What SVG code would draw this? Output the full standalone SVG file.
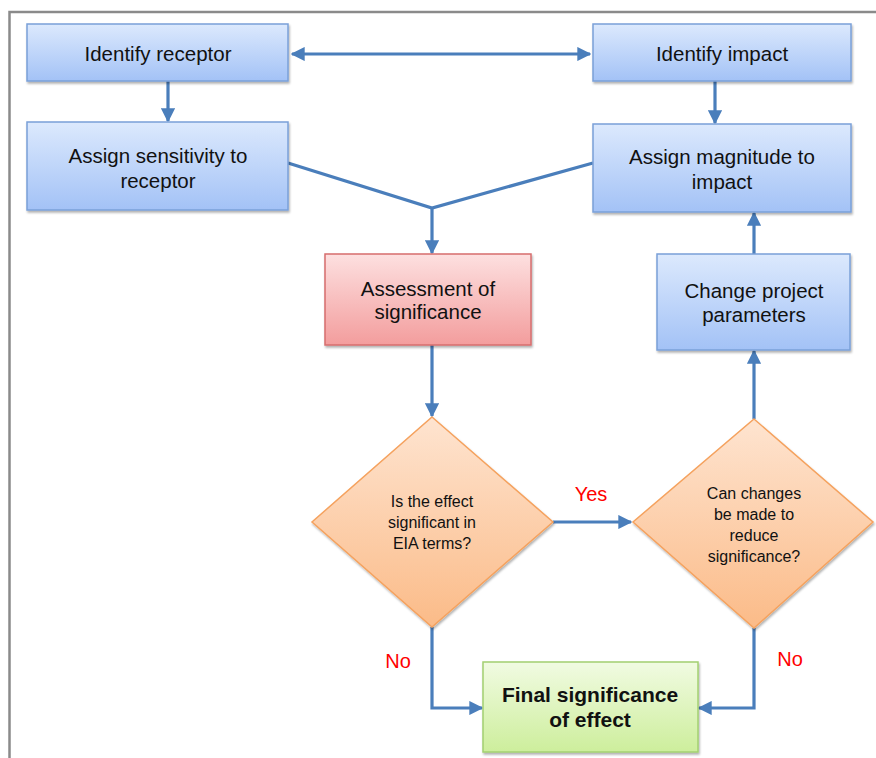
<svg xmlns="http://www.w3.org/2000/svg" width="876" height="758" viewBox="0 0 876 758">
<defs>
<linearGradient id="gBlue" x1="0" y1="0" x2="0" y2="1"><stop offset="0" stop-color="#dce9fd"/><stop offset="1" stop-color="#a3c2f6"/></linearGradient>
<linearGradient id="gRed" x1="0" y1="0" x2="0" y2="1"><stop offset="0" stop-color="#fde0e0"/><stop offset="1" stop-color="#f39d9d"/></linearGradient>
<linearGradient id="gOrange" x1="0" y1="0" x2="0" y2="1"><stop offset="0" stop-color="#fee4d0"/><stop offset="1" stop-color="#fbbb88"/></linearGradient>
<linearGradient id="gGreen" x1="0" y1="0" x2="0" y2="1"><stop offset="0" stop-color="#f1fbe2"/><stop offset="1" stop-color="#cdee9c"/></linearGradient>
<marker id="ah" viewBox="0 0 10 10" refX="9" refY="5" markerWidth="4.4" markerHeight="4.6" orient="auto-start-reverse" markerUnits="strokeWidth"><path d="M0,0 L10,5 L0,10 z" fill="#4a7ebb"/></marker>
<filter id="sh" x="-5%" y="-5%" width="115%" height="120%"><feDropShadow dx="1" dy="2" stdDeviation="1.2" flood-color="#000" flood-opacity="0.3"/></filter>
</defs>
<style>
.frame{fill:none;stroke:#8a8a8a;stroke-width:2.5}
.blue{fill:url(#gBlue);stroke:#7aa0d8;stroke-width:1.5;filter:url(#sh)}
.red{fill:url(#gRed);stroke:#d66e6e;stroke-width:1.5;filter:url(#sh)}
.orange{fill:url(#gOrange);stroke:#f5a25e;stroke-width:1.5;filter:url(#sh)}
.green{fill:url(#gGreen);stroke:#a3d070;stroke-width:1.5;filter:url(#sh)}
.t{font-family:"Liberation Sans",Arial,sans-serif;font-size:20.5px;fill:#111;text-anchor:middle}
.ts{font-family:"Liberation Sans",Arial,sans-serif;font-size:16px;fill:#111;text-anchor:middle}
.tb{font-family:"Liberation Sans",Arial,sans-serif;font-size:21px;font-weight:bold;fill:#111;text-anchor:middle}
.lbl{font-family:"Liberation Sans",Arial,sans-serif;font-size:20px;fill:#ff0000;text-anchor:middle}
.c{fill:none;stroke:#4a7ebb;stroke-width:3.2}
</style>
<path class="frame" d="M9.5,758 L9.5,12 L876,12"/>
<g id="connectors">
<line class="c" x1="292" y1="54" x2="590" y2="54" marker-start="url(#ah)" marker-end="url(#ah)"/>
<line class="c" x1="168" y1="81" x2="168" y2="121" marker-end="url(#ah)"/>
<line class="c" x1="715" y1="81" x2="715" y2="123" marker-end="url(#ah)"/>
<polyline class="c" points="288,163 432,208 593,163"/>
<line class="c" x1="432" y1="208" x2="432" y2="253" marker-end="url(#ah)"/>
<line class="c" x1="432" y1="345" x2="432" y2="416" marker-end="url(#ah)"/>
<line class="c" x1="553" y1="522" x2="631" y2="522" marker-end="url(#ah)"/>
<line class="c" x1="754" y1="419" x2="754" y2="351" marker-end="url(#ah)"/>
<line class="c" x1="754" y1="254" x2="754" y2="213" marker-end="url(#ah)"/>
<polyline class="c" points="432,627 432,708 482,708" marker-end="url(#ah)"/>
<polyline class="c" points="754,628 754,708 699,708" marker-end="url(#ah)"/>
<text class="lbl" x="591" y="501">Yes</text>
<text class="lbl" x="398" y="668">No</text>
<text class="lbl" x="790" y="666">No</text>
</g>
<g id="identify-receptor">
<rect class="blue" x="27" y="24" width="261" height="57"/>
<text class="t" x="158" y="61">Identify receptor</text>
</g>
<g id="identify-impact">
<rect class="blue" x="593" y="24" width="258" height="57"/>
<text class="t" x="722" y="61">Identify impact</text>
</g>
<g id="assign-sensitivity">
<rect class="blue" x="27" y="122" width="261" height="88"/>
<text class="t" x="158" y="163">Assign sensitivity to</text>
<text class="t" x="158" y="188">receptor</text>
</g>
<g id="assign-magnitude">
<rect class="blue" x="593" y="124" width="258" height="88"/>
<text class="t" x="722" y="164">Assign magnitude to</text>
<text class="t" x="722" y="189">impact</text>
</g>
<g id="assessment">
<rect class="red" x="325" y="254" width="206" height="91"/>
<text class="t" x="428" y="296">Assessment of</text>
<text class="t" x="428" y="319">significance</text>
</g>
<g id="change-project">
<rect class="blue" x="657" y="254" width="193" height="96"/>
<text class="t" x="754" y="298">Change project</text>
<text class="t" x="754" y="322">parameters</text>
</g>
<g id="is-significant">
<polygon class="orange" points="432,417 553,522 432,627 312,522"/>
<text class="ts" x="432" y="507">Is the effect</text>
<text class="ts" x="432" y="528">significant in</text>
<text class="ts" x="432" y="549">EIA terms?</text>
</g>
<g id="can-changes">
<polygon class="orange" points="754,419 873,522 754,628 633,522"/>
<text class="ts" x="754" y="499">Can changes</text>
<text class="ts" x="754" y="520">be made to</text>
<text class="ts" x="754" y="541">reduce</text>
<text class="ts" x="754" y="562">significance?</text>
</g>
<g id="final">
<rect class="green" x="483" y="662" width="215" height="90"/>
<text class="tb" x="590" y="702">Final significance</text>
<text class="tb" x="590" y="727">of effect</text>
</g>
</svg>
